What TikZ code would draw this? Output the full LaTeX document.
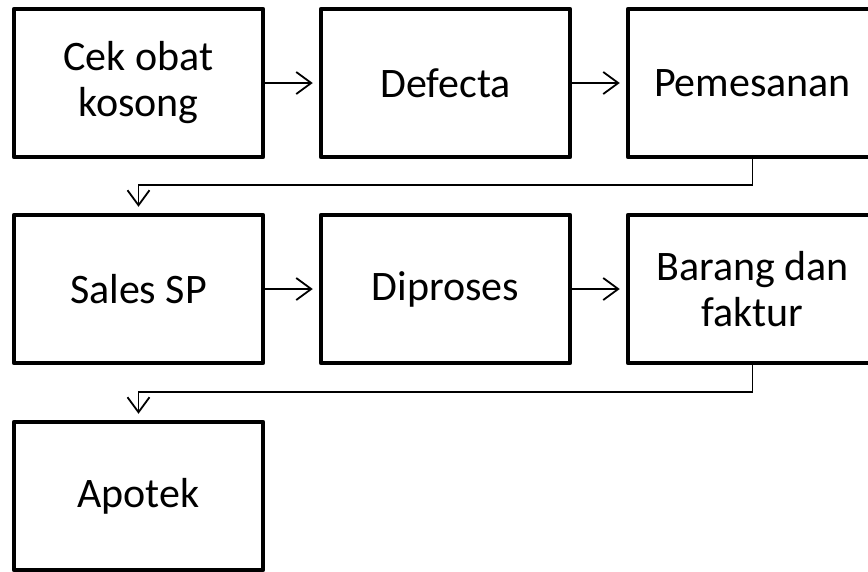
\documentclass[tikz,border=0pt]{standalone}
\usepackage{fontspec}
\setmainfont{Carlito}
\usetikzlibrary{arrows.meta}
\begin{document}
\begin{tikzpicture}[x=1pt,y=-1pt,
  stepbox/.style={draw=black, line width=4.5pt, line join=round, fill=white,
    minimum width=249pt, minimum height=148pt, inner sep=0pt, align=center,
    font=\fontsize{42}{46}\selectfont},
  link/.style={draw=black, line width=1.8pt,
    -{Straight Barb[length=15pt,width=22pt,line width=1.8pt]}, shorten >=6pt}]
\useasboundingbox (0,0) rectangle (868,571);
% row one
\node[stepbox] (cek)    at (138.5,83) {Cek obat\\kosong};
\node[stepbox] (defect) at (445.5,83) {Defecta};
\node[stepbox] (pesan)  at (752.5,83) {Pemesanan};
% row two
\node[stepbox] (sales)  at (138.5,289) {Sales SP};
\node[stepbox] (proses) at (445.5,289) {Diproses};
\node[stepbox] (barang) at (752.5,289) {Barang dan\\faktur};
% row three
\node[stepbox] (apotek) at (138.5,496) {Apotek};
% connectors
\draw[link] (cek) -- (defect);
\draw[link] (defect) -- (pesan);
\draw[link] (sales) -- (proses);
\draw[link] (proses) -- (barang);
\coordinate (turnA) at (752.5,185);
\coordinate (turnB) at (752.5,392);
\draw[link] (pesan.south) -- (turnA) -| (sales.north);
\draw[link] (barang.south) -- (turnB) -| (apotek.north);
\end{tikzpicture}
\end{document}
